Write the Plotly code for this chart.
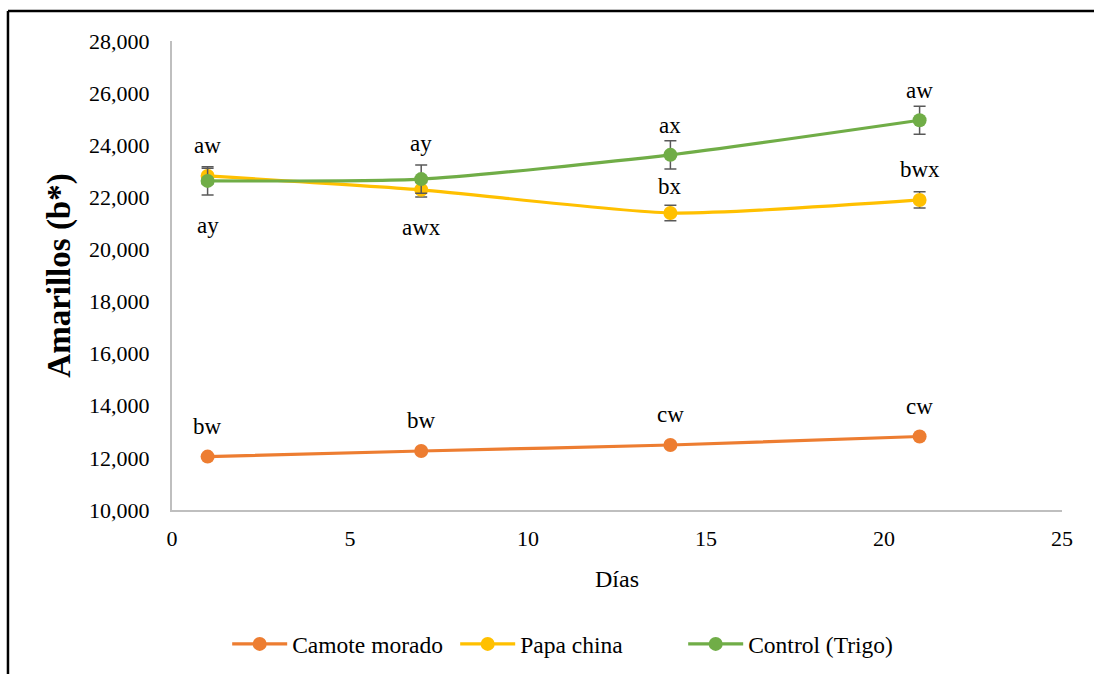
import plotly.graph_objects as go

# Días de almacenamiento
dias = [1, 7, 14, 21]

# Valores b* (amarillos) por formulación
camote_morado = [12050, 12265, 12495, 12820]
papa_china = [22820, 22290, 21400, 21900]
control_trigo = [22630, 22700, 23630, 24960]

# Desviaciones estándar
camote_err = [60, 60, 60, 60]
papa_err = [300, 280, 300, 310]
control_err = [540, 540, 540, 540]

# Letras de significancia
camote_letras = ["bw", "bw", "cw", "cw"]
papa_letras = ["ay", "awx", "bx", "bwx"]
control_letras = ["aw", "ay", "ax", "aw"]

FONT = "Liberation Serif"
C_CAMOTE = "#ED7D31"
C_PAPA = "#FFC000"
C_CONTROL = "#70AD47"
C_ERR = "#595959"

fig = go.Figure()


def serie(nombre, y, err, color):
    fig.add_trace(go.Scatter(
        x=dias, y=y, name=nombre, mode="lines+markers",
        line=dict(color=color, width=3.2, shape="spline", smoothing=0.6),
        marker=dict(color=color, size=14),
        error_y=dict(type="data", array=err, visible=True, color=C_ERR,
                     thickness=1.5, width=6),
    ))


serie("Camote morado", camote_morado, camote_err, C_CAMOTE)
serie("Papa china", papa_china, papa_err, C_PAPA)
serie("Control (Trigo)", control_trigo, control_err, C_CONTROL)


def letras(y, textos, desplazamientos):
    # desplazamiento vertical en píxeles (positivo = arriba del punto)
    for xi, yi, t, d in zip(dias, y, textos, desplazamientos):
        fig.add_annotation(
            x=xi, y=yi, text=t, showarrow=False, yshift=d,
            font=dict(family=FONT, size=23, color="black"),
        )


letras(camote_morado, camote_letras, [30, 30, 30, 30])
letras(papa_china, papa_letras, [-50, -38, 26, 30])
letras(control_trigo, control_letras, [35, 36, 29, 30])

# Marco exterior (borde superior e izquierdo)
fig.add_shape(type="line", xref="paper", yref="paper",
              x0=-0.1843, x1=1.1, y0=1.064, y1=1.064,
              line=dict(color="black", width=2.5))
fig.add_shape(type="line", xref="paper", yref="paper",
              x0=-0.1843, x1=-0.1843, y0=1.064, y1=-0.40,
              line=dict(color="black", width=2.5))

fig.update_layout(
    width=1094, height=674,
    margin=dict(l=172, r=32, t=41, b=164, autoexpand=False),
    paper_bgcolor="white", plot_bgcolor="white",
    font=dict(family=FONT, size=22, color="black"),
    showlegend=True,
    legend=dict(orientation="h", x=0.062, xanchor="left", y=-0.286,
                yanchor="middle", font=dict(family=FONT, size=23.5),
                itemwidth=55, entrywidth=158, tracegroupgap=0),
    xaxis=dict(
        range=[0, 25], tickmode="linear", tick0=0, dtick=5,
        showgrid=False, zeroline=False, showline=True,
        linecolor="#BFBFBF", linewidth=2, ticks="",
        ticklabelstandoff=8,
        title=dict(text="Días", font=dict(family=FONT, size=24), standoff=20),
        tickfont=dict(family=FONT, size=22),
    ),
    yaxis=dict(
        range=[10000, 28000], tickmode="linear", tick0=10000, dtick=2000,
        tickformat=",", showgrid=False, zeroline=False, showline=True,
        linecolor="#BFBFBF", linewidth=2, ticks="",
        ticklabelstandoff=16,
        title=dict(text="<b>Amarillos (b*)</b>",
                   font=dict(family=FONT, size=33), standoff=9),
        tickfont=dict(family=FONT, size=22),
    ),
)

fig.write_html("out.html")
